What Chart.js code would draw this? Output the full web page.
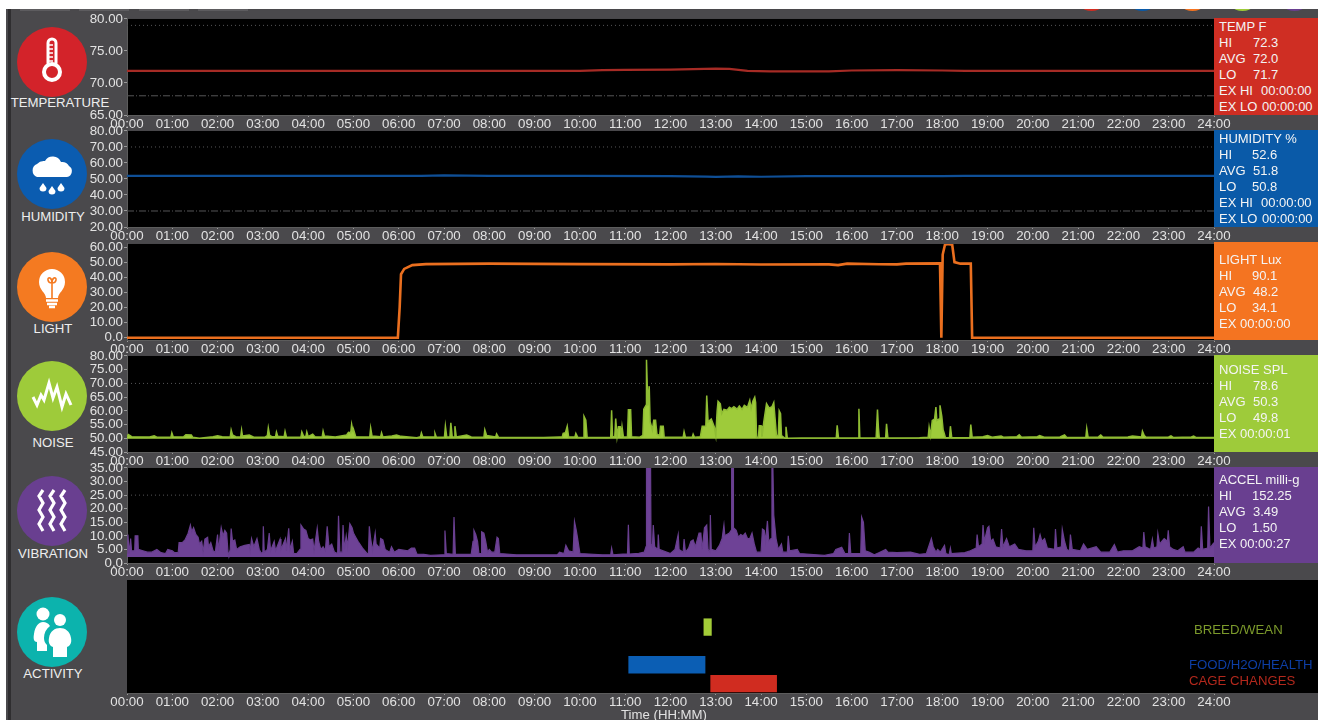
<!DOCTYPE html>
<html>
<head>
<meta charset="utf-8">
<title>Environment monitor</title>
<script src="https://cdn.jsdelivr.net/npm/chart.js@4"></script>
<style>
    html, body { margin: 0; padding: 0; background: #fff; overflow: hidden; }
    body { width: 1318px; height: 720px; position: relative; font-family: "Liberation Sans", sans-serif; }
    #panel { position: absolute; left: 6px; top: 9px; width: 1312px; height: 711px; background: #4a494c; }
    #strip { position: absolute; left: 8px; top: 9px; width: 3px; height: 711px; background: #2f2e30; }
    canvas { position: absolute; left: 0; }
    .stat { position: absolute; left: 1214px; width: 104px; color: #f4f4f4; font-size: 13px; line-height: 16px; box-sizing: border-box; padding: 1px 0 0 5px; white-space: nowrap; }
    .stat span { display: inline-block; }
    .name { position: absolute; color: #eee; font-size: 13.2px; transform: translate(-50%, -50%); white-space: nowrap; }
    .key { position: absolute; font-size: 13.2px; white-space: nowrap; transform: translateY(-50%); }
    .icon { position: absolute; left: 17px; width: 70px; height: 70px; }
    .tab { position: absolute; top: 9px; height: 2px; width: 50px; background: #5d5c5f; }
    #dots { position: absolute; left: 1000px; top: 9px; width: 318px; height: 3px; overflow: hidden; }
    .dot { position: absolute; top: -33px; width: 35px; height: 35px; border-radius: 50%; }
</style>
</head>
<body>
<div id="panel"></div>
<div id="strip"></div>
<div id="dots">
    <div class="dot" style="left:74px;background:#d12e22"></div>
    <div class="dot" style="left:125px;background:#0a5aa8"></div>
    <div class="dot" style="left:175px;background:#f47421"></div>
    <div class="dot" style="left:225px;background:#9ecb3a"></div>
    <div class="dot" style="left:277px;background:#693f90"></div>
</div>
<div class="tab" style="left:20px"></div>
<div class="tab" style="left:79px"></div>
<div class="tab" style="left:139px"></div>
<div class="tab" style="left:198px"></div>

<svg class="icon" style="top:27px" viewBox="0 0 70 70">
    <circle cx="35" cy="35" r="35" fill="#d3232a"/>
    <rect x="31" y="12" width="8" height="28" rx="4" fill="none" stroke="#fff" stroke-width="3"/>
    <circle cx="35" cy="45" r="8" fill="#d3232a" stroke="#fff" stroke-width="4"/>
    <path d="M32 18h4M32 22h4M32 26h4M32 30h4M32 34h4" stroke="#fff" stroke-width="1.5"/>
</svg>
<svg class="icon" style="top:139px" viewBox="0 0 70 70">
    <circle cx="35" cy="35" r="35" fill="#0b5cb0"/>
    <path d="M20 38a7 7 0 0 1 0-13a9 9 0 0 1 8-3a9 9 0 0 1 16 1a8 8 0 0 1 8 4a6 6 0 0 1-2 11z" fill="#fff"/>
    <path d="M26 44l-3.5 5a3.5 3.5 0 1 0 7 0zM35 47l-3.5 5a3.5 3.5 0 1 0 7 0zM44 44l-3.5 5a3.5 3.5 0 1 0 7 0z" fill="#fff"/>
</svg>
<svg class="icon" style="top:252px" viewBox="0 0 70 70">
    <circle cx="35" cy="35" r="35" fill="#f47a21"/>
    <path d="M29 46c0-5-7-8-7-16a13 13 0 0 1 26 0c0 8-7 11-7 16z" fill="#fff"/>
    <path d="M35 46v-15M35 31c-5 0-5-6-2-5c2 1 2 3 2 5c0-2 0-4 2-5c3-1 3 5-2 5z" fill="none" stroke="#f47a21" stroke-width="1.6"/>
    <path d="M29 48.5h12M30 52h10M32 55h6" stroke="#fff" stroke-width="2.4"/>
</svg>
<svg class="icon" style="top:361px" viewBox="0 0 70 70">
    <circle cx="35" cy="35" r="35" fill="#9ecb3a"/>
    <polyline points="16,36 20,44 24,34 27,39 32,22 36,37 40,26 45,46 49,33 54,44" fill="none" stroke="#fff" stroke-width="3"/>
</svg>
<svg class="icon" style="top:476px" viewBox="0 0 70 70">
    <circle cx="35" cy="35" r="35" fill="#693f90"/>
    <path d="M25 14l-4 6l4 7l-4 7l4 7l-4 7l4 7M36 14l-4 6l4 7l-4 7l4 7l-4 7l4 7M47 14l-4 6l4 7l-4 7l4 7l-4 7l4 7" transform="translate(1 0)" fill="none" stroke="#fff" stroke-width="3.2"/>
</svg>
<svg class="icon" style="top:597px" viewBox="0 0 70 70">
    <circle cx="35" cy="35" r="35" fill="#0cb3ad"/>
    <circle cx="26" cy="17" r="6.5" fill="#fff"/>
    <circle cx="43" cy="23" r="6" fill="#fff"/>
    <path d="M20 54v-9c-3 0-4-3-3-8c1-8 5-12 9-12c3 0 5 1 7 4c-4 3-6 7-6 12c0 3 1 5 3 7v6z" fill="#fff"/>
    <path d="M36 60v-10c-3-1-5-4-4-9c1-7 6-10 11-10c5 0 10 3 11 10c1 5-1 8-4 9v10z" fill="#fff"/>
</svg>

<div class="name" style="left:60px;top:102px">TEMPERATURE</div>
<div class="name" style="left:53px;top:216px">HUMIDITY</div>
<div class="name" style="left:53px;top:328px">LIGHT</div>
<div class="name" style="left:53px;top:442px">NOISE</div>
<div class="name" style="left:53px;top:553px">VIBRATION</div>
<div class="name" style="left:53px;top:673px">ACTIVITY</div>

<canvas id="chart-temperature" style="top:10px"></canvas>
<canvas id="chart-humidity" style="top:122px"></canvas>
<canvas id="chart-light" style="top:235px"></canvas>
<canvas id="chart-noise" style="top:347px"></canvas>
<canvas id="chart-vibration" style="top:459px"></canvas>
<canvas id="chart-activity" style="top:572px"></canvas>

<div class="stat" id="stat-temperature" style="top:18px;height:97px;background:#cf2e23"></div>
<div class="stat" id="stat-humidity" style="top:130px;height:97px;background:#0a5aa8"></div>
<div class="stat" id="stat-light" style="top:242px;height:98px;background:#f47421;padding-top:10px"></div>
<div class="stat" id="stat-noise" style="top:355px;height:97px;background:#9ecb3a;padding-top:7px"></div>
<div class="stat" id="stat-vibration" style="top:467px;height:96px;background:#693f90;padding-top:5px"></div>

<div class="key" style="left:1194px;top:629px;color:#7c9a2b">BREED/WEAN</div>
<div class="key" style="left:1189px;top:664px;color:#0d3ea5">FOOD/H2O/HEALTH</div>
<div class="key" style="left:1189px;top:680px;color:#b3281c">CAGE CHANGES</div>
<div class="name" style="left:664px;top:714px;color:#e2e2e2">Time (HH:MM)</div>

<script>
// hours along every x axis
const hourTicks = [0, 1, 2, 3, 4, 5, 6, 7, 8, 9, 10, 11, 12, 13, 14, 15, 16, 17, 18, 19, 20, 21, 22, 23, 24];

const temperatureTicks = [65, 70, 75, 80];
const humidityTicks = [20, 30, 40, 50, 60, 70, 80];
const lightTicks = [0, 10, 20, 30, 40, 50, 60];
const noiseTicks = [45, 50, 55, 60, 65, 70, 75, 80];
const vibrationTicks = [0, 5, 10, 15, 20, 25, 30, 35];

const temperatureLimits = [79, 68];
const humidityLimits = [70, 30];
const noiseLimits = [70];
const vibrationLimits = [25];

// [hour, value]
const temperatureSeries = [[0, 71.9], [10, 71.9], [10.5, 72], [11, 72.05], [12, 72.1], [13, 72.25], [13.3, 72.2], [13.7, 71.9], [14.2, 71.8], [15.5, 71.8], [16, 71.95], [17, 72], [18, 71.95], [18.5, 71.9], [24, 71.9]];
const humiditySeries = [[0, 52], [6.5, 52], [7, 52.3], [8, 52], [10, 51.9], [12, 51.8], [12.8, 51.5], [13, 51.3], [13.5, 51.6], [14, 51.4], [15, 51.8], [18, 51.8], [18.5, 52], [24, 51.9]];
const lightSeries = [[0, 0], [5.98, 0], [6.02, 20], [6.05, 42], [6.12, 45.5], [6.3, 48], [6.6, 48.7], [8, 49], [10, 48.7], [12, 48.5], [13, 48.8], [14, 48.4], [15.5, 48.5], [15.7, 48], [15.9, 49], [16.6, 48.6], [17, 48.5], [17.2, 49], [17.95, 49.2], [17.98, 0], [18.01, 55], [18.06, 61.5], [18.12, 62], [18.22, 61.5], [18.27, 50], [18.4, 49], [18.63, 49], [18.66, 0], [24, 0]];
const noiseSeries = [
    [0, 50.5], [0.03, 51.4], [0.07, 51], [0.1, 50.6], [0.5, 50.5], [0.6, 50.9], [0.66, 50.4], [0.97, 50.4], [0.99, 52], [1.02, 50.6],
    [1.25, 50.5], [1.3, 51.3], [1.42, 51.2], [1.45, 50.4], [1.6, 50], [1.9, 50.6], [2, 50.9], [2.1, 50.6], [2.28, 50.5], [2.3, 53],
    [2.33, 51.2], [2.4, 50.6], [2.51, 50.5], [2.53, 53], [2.55, 50.8], [2.7, 51.2], [2.8, 50.4], [3.05, 50.4], [3.1, 51], [3.12, 53.8],
    [3.15, 51], [3.2, 50.6], [3.28, 50.6], [3.3, 52.3], [3.33, 50.7], [3.47, 50.6], [3.49, 52.5], [3.52, 50.5], [3.84, 50.4], [3.86, 52.3],
    [3.9, 50.7], [3.95, 50.6], [3.97, 52.3], [4, 50.6], [4.1, 51.5], [4.15, 50.6], [4.31, 50.5], [4.33, 52.6], [4.36, 50.8], [4.6, 50.5],
    [4.85, 51.2], [4.89, 52.2], [4.94, 52], [4.96, 55.1], [4.99, 52.5], [5.01, 52.8], [5.05, 50.6], [5.36, 50.5], [5.38, 53.8], [5.41, 50.8],
    [5.6, 50.6], [5.62, 52], [5.65, 50.5], [5.85, 50.8], [5.95, 51.2], [6.05, 50.7], [6.4, 50.2], [6.48, 50.6], [6.5, 52], [6.53, 50.6],
    [6.78, 50.5], [6.8, 51.8], [6.83, 50.4], [7.01, 50.5], [7.03, 54.4], [7.06, 50.5], [7.13, 50.5], [7.15, 55.6], [7.18, 50.6], [7.22, 50.5],
    [7.24, 54.4], [7.27, 50.5], [7.5, 51.2], [7.6, 50.5], [7.88, 50.4], [7.9, 53.1], [7.94, 51], [8.14, 50.5], [8.16, 51.6], [8.2, 50.4],
    [9.2, 50.3], [9.55, 50.5], [9.61, 50.5], [9.63, 51.8], [9.68, 52], [9.72, 54.4], [9.75, 50.5], [9.89, 50.5], [9.91, 51.8], [9.95, 50.4],
    [10.07, 50.3], [10.09, 58], [10.13, 56.6], [10.16, 50.4], [10.6, 50.3], [10.68, 50.4], [10.7, 60.2], [10.72, 50.6], [10.77, 50.6], [10.79, 57.2],
    [10.82, 50.6], [10.85, 54.2], [10.89, 54.2], [10.91, 50.6], [10.93, 54.2], [10.96, 50.5], [11.05, 50.5], [11.07, 60.4], [11.12, 60.4], [11.14, 50.6],
    [11.32, 50.4], [11.39, 51], [11.41, 60.6], [11.46, 62], [11.47, 78.6], [11.5, 62], [11.53, 69], [11.55, 56], [11.6, 53], [11.63, 56.6],
    [11.67, 56.6], [11.7, 51.5], [11.76, 51], [11.78, 54.4], [11.84, 54.4], [11.86, 50.5], [12.28, 50.4], [12.3, 52.4], [12.33, 50.4], [12.48, 50.4],
    [12.5, 51.5], [12.53, 50.4], [12.66, 50.6], [12.7, 54.4], [12.78, 54.5], [12.8, 65.6], [12.83, 56], [12.9, 57], [12.97, 54], [13, 51],
    [13.03, 60], [13.05, 63.5], [13.1, 62.6], [13.13, 59], [13.18, 60.5], [13.25, 60.2], [13.3, 61.3], [13.35, 60.8], [13.4, 61.5], [13.47, 60.6],
    [13.52, 61.8], [13.58, 60.5], [13.63, 62], [13.7, 61.3], [13.75, 63.8], [13.78, 60.8], [13.82, 63.6], [13.86, 65], [13.88, 63], [13.9, 50.4],
    [13.94, 50.4], [13.96, 54.6], [14, 54.6], [14.02, 50.6], [14.06, 56], [14.12, 62.6], [14.18, 61], [14.24, 61.5], [14.28, 63], [14.31, 57],
    [14.34, 51], [14.38, 51], [14.4, 60], [14.43, 59], [14.45, 51], [14.53, 50], [14.55, 54.2], [14.58, 50], [14.9, 50.1], [15.2, 50.1],
    [15.66, 50.1], [15.68, 54.7], [15.71, 50.1], [16.14, 50.1], [16.16, 60.8], [16.18, 50.1], [16.54, 50.1], [16.57, 60.5], [16.59, 54], [16.61, 50.1],
    [16.75, 50.1], [16.77, 55.3], [16.8, 50.1], [17.5, 50.2], [17.69, 50.4], [17.71, 54], [17.74, 51], [17.78, 56.5], [17.83, 57], [17.86, 61.4],
    [17.88, 56.5], [17.93, 57], [17.95, 62], [17.99, 58], [18.02, 53], [18.04, 52], [18.07, 50.2], [18.16, 50.2], [18.18, 54.4], [18.21, 50.2],
    [18.61, 50.2], [18.63, 55], [18.66, 50.4], [18.9, 50.6], [19, 51], [19.1, 50.4], [19.3, 50.8], [19.35, 50.4], [19.65, 50.6], [19.7, 51.3],
    [19.75, 50.4], [20.1, 50.6], [20.15, 51], [20.25, 50.4], [20.6, 50.5], [20.7, 51.2], [20.75, 50.3], [21.17, 50.3], [21.19, 53.6], [21.22, 50.4],
    [21.45, 50.5], [21.5, 51.2], [21.55, 50.4], [22.1, 50.5], [22.2, 50.8], [22.4, 50.5], [22.42, 52.6], [22.46, 51], [22.5, 50.4], [23, 50.5],
    [23.05, 50.9], [23.1, 50.3], [23.5, 50.5], [23.55, 50.8], [23.6, 50.3], [24, 50.3]
];
const vibrationSeries = [
    [0, 3.5], [0.02, 10.5], [0.05, 3.5], [0.08, 9], [0.1, 4.5], [0.17, 4.5], [0.18, 10], [0.24, 10], [0.25, 5], [0.35, 4.5], [0.45, 4], [0.55, 4],
    [0.66, 5], [0.75, 3.8], [0.85, 3.5], [0.9, 5], [1, 4.5], [1.05, 3.8], [1.13, 3.8], [1.15, 7.5], [1.22, 7.5], [1.28, 8.5], [1.35, 11], [1.4, 14],
    [1.43, 11.5], [1.47, 13], [1.52, 10.5], [1.57, 9.5], [1.6, 7], [1.65, 8], [1.68, 4], [1.72, 8.8], [1.78, 9.5], [1.8, 6], [1.85, 7.5], [1.9, 4.5],
    [1.95, 4], [2, 10.5], [2.02, 4.5], [2.08, 13], [2.12, 10], [2.16, 12], [2.2, 11], [2.23, 4], [2.25, 3], [2.28, 5], [2.3, 12.7], [2.33, 8],
    [2.38, 8.5], [2.42, 5], [2.5, 6], [2.6, 6.5], [2.7, 6.8], [2.72, 4.5], [2.75, 9], [2.8, 6], [2.87, 9], [2.92, 5], [2.97, 3.5], [3, 4],
    [3.01, 13.5], [3.03, 4], [3.1, 5], [3.14, 11], [3.17, 4.5], [3.25, 8], [3.28, 4.5], [3.38, 8.8], [3.4, 5], [3.5, 9], [3.52, 4.5], [3.57, 12.8],
    [3.6, 5], [3.65, 8], [3.68, 3.5], [3.75, 3.5], [3.82, 5], [3.84, 14], [3.9, 12.5], [3.95, 12], [4, 9], [4.05, 8.5], [4.1, 8.8], [4.13, 4.5],
    [4.2, 12.8], [4.23, 8], [4.28, 5], [4.33, 6], [4.38, 4.5], [4.42, 13.5], [4.46, 6], [4.52, 7], [4.58, 4], [4.65, 3.5], [4.67, 17.4], [4.7, 4],
    [4.75, 4], [4.77, 14], [4.8, 5], [4.84, 10], [4.87, 6], [4.92, 14.5], [4.97, 13], [5, 11], [5.05, 9.5], [5.1, 8], [5.2, 5.5], [5.3, 3.5],
    [5.33, 3.5], [5.35, 13.5], [5.38, 9], [5.42, 4.5], [5.48, 11], [5.5, 7], [5.58, 5.5], [5.6, 9], [5.65, 8.5], [5.7, 5], [5.8, 4], [5.84, 6],
    [5.9, 4], [6, 5], [6.2, 4.5], [6.28, 5.5], [6.35, 5.5], [6.4, 3.3], [6.55, 3.2], [6.7, 2.8], [6.95, 3], [7, 3], [7.02, 12], [7.05, 3.5],
    [7.2, 3.2], [7.22, 16.9], [7.25, 3.2], [7.6, 3.2], [7.64, 8], [7.66, 12], [7.7, 10.5], [7.74, 8], [7.77, 3.5], [7.82, 3.5], [7.83, 11.5], [7.88, 11],
    [7.92, 8], [7.96, 4], [8, 5], [8.05, 4], [8.12, 4], [8.17, 9.5], [8.2, 9], [8.23, 3.5], [8.6, 3], [9, 3], [9.5, 3], [9.55, 4],
    [9.65, 3.5], [9.69, 6.5], [9.75, 4.5], [9.85, 4], [9.88, 15.3], [9.92, 12], [9.95, 9], [10, 3.5], [10.5, 3], [10.68, 3], [10.7, 5.5], [10.73, 3],
    [10.95, 3.3], [11.05, 3.3], [11.07, 14.1], [11.09, 3.3], [11.3, 3.6], [11.42, 4], [11.46, 6], [11.47, 36], [11.56, 36], [11.57, 7], [11.6, 6], [11.62, 14],
    [11.65, 6], [11.72, 5], [11.73, 10.5], [11.75, 5], [12, 3.5], [12.1, 5], [12.17, 10.5], [12.19, 5], [12.28, 4], [12.3, 8.8], [12.33, 4], [12.4, 5.5],
    [12.45, 8], [12.5, 8.5], [12.55, 6], [12.63, 11], [12.67, 11], [12.7, 5], [12.75, 13], [12.8, 14], [12.83, 5], [12.87, 4], [12.88, 17.7], [12.9, 5],
    [13, 4.5], [13.08, 6.5], [13.14, 9], [13.18, 14], [13.2, 10], [13.3, 11], [13.34, 12], [13.35, 36], [13.38, 36], [13.39, 13], [13.45, 12], [13.5, 9.5],
    [13.55, 10.5], [13.6, 10], [13.65, 11], [13.7, 9], [13.75, 9], [13.8, 11], [13.85, 7], [13.9, 4], [14, 4], [14.03, 12.5], [14.07, 12], [14.1, 8],
    [14.14, 15.5], [14.17, 8], [14.22, 9], [14.24, 36], [14.26, 36], [14.28, 17.7], [14.33, 9], [14.38, 5], [14.45, 7], [14.48, 4], [14.58, 4], [14.6, 10],
    [14.63, 4.5], [14.8, 5], [14.85, 3.5], [15, 3.3], [15.4, 2.8], [15.6, 3.5], [15.65, 5], [15.78, 5.8], [15.85, 3.5], [15.93, 3.5], [15.95, 11], [15.98, 3.5],
    [16.2, 3.5], [16.22, 16.9], [16.26, 15], [16.3, 4.5], [16.38, 4], [16.5, 3], [16.6, 3.8], [16.75, 5], [16.8, 4], [17, 3.8], [17.3, 4], [17.5, 3.2],
    [17.65, 3.5], [17.72, 7], [17.76, 9], [17.8, 6], [17.86, 4], [17.9, 5], [17.96, 4], [18.05, 6.5], [18.08, 3.5], [18.15, 3], [18.18, 5.5], [18.2, 3.5],
    [18.5, 3.8], [18.62, 4.5], [18.75, 5.5], [18.77, 10.5], [18.8, 6], [18.88, 7], [18.9, 14], [18.93, 8], [19, 13], [19.03, 13.5], [19.07, 8], [19.12, 8.8],
    [19.18, 6], [19.28, 5.5], [19.31, 12.5], [19.34, 6], [19.42, 9], [19.48, 6], [19.6, 7], [19.68, 5], [19.85, 4.5], [20, 4.5], [20.02, 13], [20.05, 6],
    [20.12, 8], [20.16, 10.5], [20.2, 8], [20.26, 9], [20.32, 5.5], [20.48, 5], [20.5, 12.5], [20.53, 5.5], [20.63, 6], [20.65, 12.4], [20.7, 8], [20.75, 5],
    [20.81, 4.5], [20.83, 10.5], [20.87, 5], [21.05, 4.5], [21.12, 7], [21.2, 5], [21.4, 6], [21.5, 4], [21.7, 4], [21.8, 6.8], [21.87, 4], [22, 4.5],
    [22.2, 4.5], [22.35, 6], [22.43, 5.5], [22.45, 11.4], [22.48, 6], [22.6, 5], [22.64, 8.8], [22.67, 5.5], [22.74, 6], [22.76, 10.9], [22.8, 7], [22.9, 9],
    [22.97, 8], [22.99, 12], [23.02, 6], [23.1, 5], [23.2, 4.5], [23.32, 6], [23.36, 4], [23.55, 4], [23.65, 5.5], [23.7, 5], [23.72, 13.5], [23.75, 5],
    [23.86, 5.5], [23.88, 20.8], [23.91, 5.5], [24, 7.5]
];

const activityRows = ["", "", "BREED/WEAN", "", "FOOD/H2O/HEALTH", "CAGE CHANGES"];
const activityStarts = [null, null, 12.73, null, 11.07, 12.88];
const activityEnds = [null, null, 12.91, null, 12.77, 14.35];
const activityColors = ["#000", "#000", "#a3cc38", "#000", "#0b5eb4", "#d02c20"];

// right hand boxes: [label, value, label width]
const temperatureStats = [["TEMP F", "", 0], ["HI", "72.3", 34], ["AVG", "72.0", 34], ["LO", "71.7", 34], ["EX HI", "00:00:00", 42], ["EX LO", "00:00:00", 43]];
const humidityStats = [["HUMIDITY %", "", 0], ["HI", "52.6", 33], ["AVG", "51.8", 34], ["LO", "50.8", 33], ["EX HI", "00:00:00", 42], ["EX LO", "00:00:00", 43]];
const lightStats = [["LIGHT Lux", "", 0], ["HI", "90.1", 33], ["AVG", "48.2", 34], ["LO", "34.1", 33], ["EX", "00:00:00", 21]];
const noiseStats = [["NOISE SPL", "", 0], ["HI", "78.6", 34], ["AVG", "50.3", 34], ["LO", "49.8", 34], ["EX", "00:00:01", 21]];
const vibrationStats = [["ACCEL milli-g", "", 0], ["HI", "152.25", 33], ["AVG", "3.49", 34], ["LO", "1.50", 33], ["EX", "00:00:27", 21]];

Chart.defaults.font.family = '"Liberation Sans", sans-serif';
Chart.defaults.font.size = 13.3;
Chart.defaults.color = "#e2e2e2";
Chart.defaults.animation = false;

const PLOT_LEFT = 127;
const PLOT_RIGHT = 1214;
const PAGE_WIDTH = 1318;

const blackPlot = {
    id: "blackPlot",
    beforeDraw(chart) {
        const area = chart.chartArea;
        chart.ctx.fillStyle = "#000";
        chart.ctx.fillRect(area.left, area.top, PAGE_WIDTH - area.left, area.bottom - area.top);
    }
};

function hourLabel(v) {
    return String(v).padStart(2, "0") + ":00";
}

function xAxis() {
    return {
        type: "linear",
        min: 0,
        max: 24,
        afterBuildTicks: scale => { scale.ticks = hourTicks.map(v => ({ value: v })); },
        afterFit: scale => { scale.height = 20; },
        grid: { drawOnChartArea: false, drawTicks: true, tickLength: 2, color: "#9a9a9a" },
        border: { color: "#5c5c5c" },
        ticks: { autoSkip: false, maxRotation: 0, padding: -1, callback: hourLabel }
    };
}

function makeLineChart(id, height, yMin, yMax, tickValues, limits, series, style) {
    const canvas = document.getElementById(id);
    canvas.width = PAGE_WIDTH;
    canvas.height = height;
    canvas.style.width = PAGE_WIDTH + "px";
    canvas.style.height = height + "px";

    const datasets = [{
        data: series.map(p => ({ x: p[0], y: p[1] })),
        borderColor: style.line,
        backgroundColor: style.fillColor || "transparent",
        borderWidth: style.width,
        pointRadius: 0,
        tension: 0,
        fill: style.fillTo === undefined ? false : { value: style.fillTo }
    }];
    limits.forEach((v, i) => {
        datasets.push({
            data: [{ x: 0, y: v }, { x: 24, y: v }],
            borderColor: "#555557",
            borderWidth: 1,
            borderDash: i === 0 ? [1, 3] : [7, 2, 1, 2],
            pointRadius: 0,
            fill: false
        });
    });

    return new Chart(canvas, {
        type: "line",
        data: { datasets: datasets },
        options: {
            responsive: false,
            devicePixelRatio: 1,
            layout: { autoPadding: false, padding: { top: 8, right: PAGE_WIDTH - PLOT_RIGHT, left: 0, bottom: 0 } },
            plugins: { legend: { display: false }, tooltip: { enabled: false } },
            scales: {
                x: xAxis(),
                y: {
                    min: yMin,
                    max: yMax,
                    afterBuildTicks: scale => { scale.ticks = tickValues.map(v => ({ value: v })); },
                    afterFit: scale => { scale.width = PLOT_LEFT; },
                    grid: { drawOnChartArea: false, tickLength: 3, color: "#9a9a9a" },
                    border: { color: "#5c5c5c" },
                    ticks: { autoSkip: false, padding: 1, callback: v => (v === 0 ? "0.0" : v.toFixed(2)) }
                }
            }
        },
        plugins: [blackPlot]
    });
}

function fillStats(id, rows) {
    document.getElementById(id).innerHTML = rows.map(r =>
        "<div>" + (r[2] ? '<span style="width:' + r[2] + 'px">' + r[0] + "</span>" + r[1] : r[0]) + "</div>"
    ).join("");
}

makeLineChart("chart-temperature", 125, 65, 80, temperatureTicks, temperatureLimits, temperatureSeries, { line: "#a62b25", width: 2.2 });
makeLineChart("chart-humidity", 125, 20, 80, humidityTicks, humidityLimits, humiditySeries, { line: "#0f4f96", width: 2.2 });
makeLineChart("chart-light", 125, -1.5, 62, lightTicks, [], lightSeries, { line: "#ea6f1f", width: 2.6 });
makeLineChart("chart-noise", 125, 45, 80, noiseTicks, noiseLimits, noiseSeries, { line: "#8fbc33", width: 1.5, fillTo: 49.8, fillColor: "#9ecb3a" });
makeLineChart("chart-vibration", 124, 0, 35, vibrationTicks, vibrationLimits, vibrationSeries, { line: "#693f90", width: 1.2, fillTo: 2.2, fillColor: "#6e4296" });

// activity strip, floating horizontal bars on the shared hour axis
const activityCanvas = document.getElementById("chart-activity");
activityCanvas.width = PAGE_WIDTH;
activityCanvas.height = 148;
activityCanvas.style.width = PAGE_WIDTH + "px";
activityCanvas.style.height = "148px";

new Chart(activityCanvas, {
    type: "bar",
    data: {
        labels: activityRows,
        datasets: [{
            data: activityStarts.map((s, i) => (s === null ? null : [s, activityEnds[i]])),
            backgroundColor: activityColors,
            barPercentage: 0.92,
            categoryPercentage: 1
        }]
    },
    options: {
        responsive: false,
        devicePixelRatio: 1,
        indexAxis: "y",
        layout: { autoPadding: false, padding: { top: 8, right: PAGE_WIDTH - PLOT_RIGHT, left: 0, bottom: 0 } },
        plugins: { legend: { display: false }, tooltip: { enabled: false } },
        scales: {
            x: Object.assign(xAxis(), { afterFit: scale => { scale.height = 27; } }),
            y: {
                afterFit: scale => { scale.width = PLOT_LEFT; },
                grid: { display: false },
                border: { display: false },
                ticks: { display: false }
            }
        }
    },
    plugins: [blackPlot]
});

fillStats("stat-temperature", temperatureStats);
fillStats("stat-humidity", humidityStats);
fillStats("stat-light", lightStats);
fillStats("stat-noise", noiseStats);
fillStats("stat-vibration", vibrationStats);
</script>
</body>
</html>
